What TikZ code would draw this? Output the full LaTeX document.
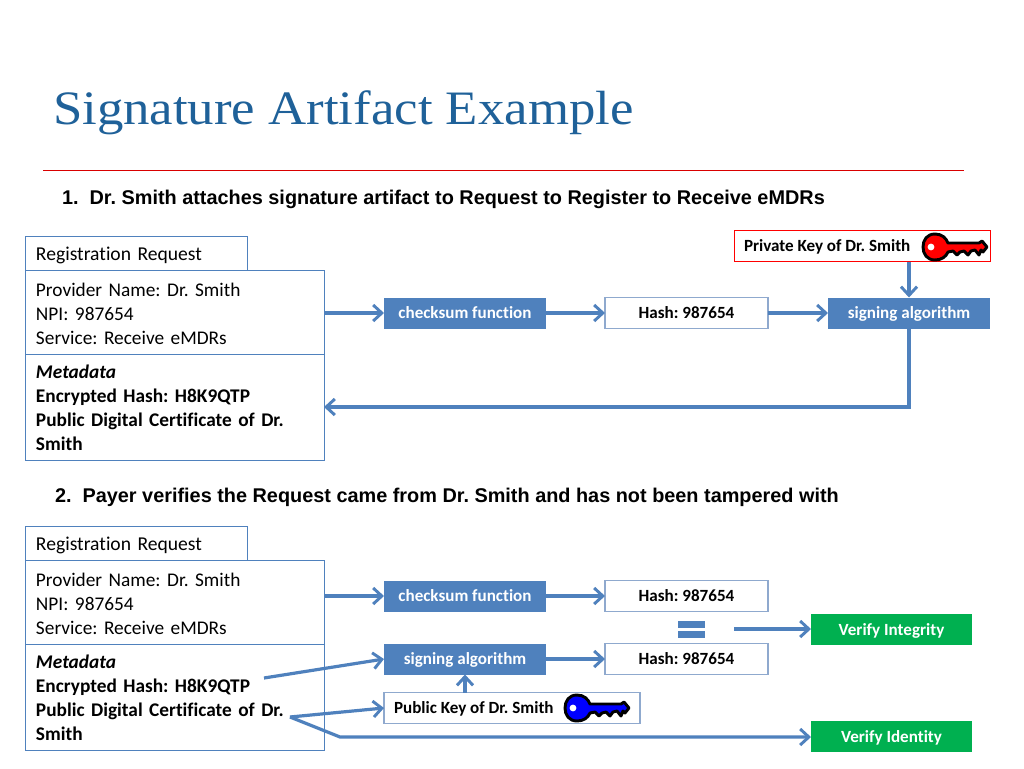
\documentclass[tikz,border=0pt]{standalone}
\usepackage{fontspec}
\setmainfont[Ligatures=NoCommon]{Carlito}
\newfontfamily\bodyfont[Ligatures=NoCommon]{Carlito}
\newfontfamily\titlefont[FakeStretch=1.1]{Liberation Serif}
\newfontfamily\headfont{Liberation Sans}
\usetikzlibrary{arrows.meta}
\definecolor{blu}{HTML}{4F81BD}
\definecolor{edgeblu}{HTML}{8FA9CE}
\definecolor{grn}{HTML}{00B050}
\definecolor{ttl}{HTML}{1F6199}
\def\px{0.75pt}
\tikzset{
  every node/.style={inner sep=0pt,outer sep=0pt},
  bigtext/.style={font=\bodyfont\frenchspacing\fontsize{14.5}{18.1}\selectfont,align=left,text width=#1*\px-22*\px},
  docbox/.style={draw=blu,line width=0.7pt,fill=white,minimum width=#1*\px,minimum height=20pt,bigtext=#1},
  down/.style={execute at begin node={\rule{0pt}{#1}}},
  lbl/.style={font=\frenchspacing\fontsize{12.8}{14}\selectfont\bfseries,align=center,text height=11.2pt,text depth=3pt},
  blubox/.style={fill=blu,text=white,lbl,minimum width=162*\px,minimum height=31*\px},
  grnbox/.style={fill=grn,text=white,lbl,text height=12.6pt,minimum width=161*\px,minimum height=31*\px},
  hashbox/.style={draw=edgeblu,line width=0.8pt,fill=white,lbl,minimum width=163*\px,minimum height=31*\px},
  conn/.style={draw=blu,line width=2.4pt,-{Straight Barb[length=6.5pt,width=12pt,line width=2.2pt]}},
  heading/.style={font=\headfont\frenchspacing\fontsize{14.9}{18}\selectfont\bfseries,anchor=base west},
  eqbar/.style={fill=blu,minimum width=27*\px,minimum height=7*\px},
}
\newcommand{\keyicon}[3]{%
  \begin{scope}[shift={(#1,#2)},x=0.75pt,y=-0.75pt]
    \fill[#3,draw=black,line width=2.2pt,line join=round]
      (12,-13) .. controls (19,-13) and (23,-9) .. (25,-4)
      -- (56,-4) -- (59,-6) -- (64,0) -- (60,5) -- (58,3) -- (56,8) -- (52,3) -- (48,4)
      -- (45,8) -- (41,4) -- (37,5) -- (34,8) -- (30,4) -- (25,5)
      .. controls (23,10) and (18,13) .. (12,13)
      .. controls (4,13) and (0,7) .. (0,0)
      .. controls (0,-7) and (4,-13) .. (12,-13) -- cycle;
    \fill[white] (8,0) circle (3.4*0.75pt);
  \end{scope}}
\begin{document}
\begin{tikzpicture}[x=0.75pt,y=-0.75pt]
\useasboundingbox (0,0) rectangle (1024,768);
\fill[white] (0,0) rectangle (1024,768);

\node[anchor=base west,font=\titlefont\fontsize{36}{40}\selectfont,text=ttl] (title) at (53,124) {Signature Artifact Example};
\coordinate (ruleL) at (43,170.5);
\coordinate (ruleR) at (964,170.5);
\draw[red!85!black,line width=0.8pt] (ruleL) -- (ruleR);

\node[heading] (head1) at (62,204) {1.\ \ Dr. Smith attaches signature artifact to Request to Register to Receive eMDRs};
\node[heading] (head2) at (55,502) {2.\ \ Payer verifies the Request came from Dr. Smith and has not been tampered with};

% --- first block
\node[docbox=222,minimum height=34*\px,down=13.5pt] (reg1) at (136,253) {\fontsize{14.7}{18.1}\selectfont Registration Request};
\node[docbox=299,minimum height=84*\px,down=11.6pt] (prov1) at (174.5,312.5) {Provider Name: Dr. Smith\\NPI: 987654\\Service: Receive eMDRs};
\node[docbox=299,minimum height=106*\px,down=11pt] (meta1) at (174.5,407) {\textit{\textbf{Metadata}}\\\textbf{Encrypted Hash: H8K9QTP}\\\textbf{Public Digital Certificate of Dr.}\\\textbf{Smith}};
\node[blubox] (chk1) at (465,313) {checksum function};
\node[hashbox] (hash1) at (686.5,313) {Hash: 987654};
\node[blubox] (sign1) at (909,313) {signing algorithm};
\node[draw=red,line width=0.7pt,fill=white,minimum width=256*\px,minimum height=31*\px] (priv) at (862,246) {};
\node[lbl,anchor=base west] (privt) at (744,251.5) {Private Key of Dr. Smith};
\keyicon{923}{247}{red}

\draw[conn] (prov1.east |- chk1) -- (chk1);
\draw[conn] (chk1) -- (hash1);
\draw[conn] (hash1) -- (sign1);
\draw[conn] (priv.south -| sign1) -- (sign1);
\coordinate (ret1) at (909,407);
\draw[conn] (sign1) -- (ret1) -- (meta1.east |- ret1);

% --- second block
\node[docbox=222,minimum height=34*\px,down=13.5pt] (reg2) at (136,543) {\fontsize{14.7}{18.1}\selectfont Registration Request};
\node[docbox=299,minimum height=84*\px,down=11.6pt] (prov2) at (174.5,602.5) {Provider Name: Dr. Smith\\NPI: 987654\\Service: Receive eMDRs};
\node[docbox=299,minimum height=106*\px,down=11pt] (meta2) at (174.5,697) {\textit{\textbf{Metadata}}\\\textbf{Encrypted Hash: H8K9QTP}\\\textbf{Public Digital Certificate of Dr.}\\\textbf{Smith}};
\node[blubox] (chk2) at (465,596) {checksum function};
\node[hashbox] (hash2) at (686.5,596) {Hash: 987654};
\node[blubox] (sign2) at (465,659) {signing algorithm};
\node[hashbox] (hash3) at (686.5,659) {Hash: 987654};
\node[draw=edgeblu,line width=0.8pt,fill=white,minimum width=256*\px,minimum height=31*\px] (pub) at (512,708) {};
\node[lbl,anchor=base west] (pubt) at (394,713.5) {Public Key of Dr. Smith};
\keyicon{565}{708}{blue}
\node[grnbox] (vint) at (891.5,629) {Verify Integrity};
\node[grnbox] (vid) at (891.5,736) {Verify Identity};
\node[eqbar] (eqa) at (691.5,624.5) {};
\node[eqbar] (eqb) at (691.5,634) {};
\coordinate (eqout) at (734,629);
\coordinate (enc) at (264,678);
\coordinate (cert) at (290,717);
\coordinate (bend) at (340,737);

\draw[conn] (prov2.east |- chk2) -- (chk2);
\draw[conn] (chk2) -- (hash2);
\draw[conn] (sign2) -- (hash3);
\draw[conn] (eqout) -- (vint);
\draw[conn] (enc) -- (sign2.west);
\draw[conn] (pub.north -| sign2) -- (sign2);
\draw[conn] (cert) -- (pub.west);
\draw[conn] (cert) -- (bend) -- (vid.west |- bend);
\end{tikzpicture}
\end{document}
